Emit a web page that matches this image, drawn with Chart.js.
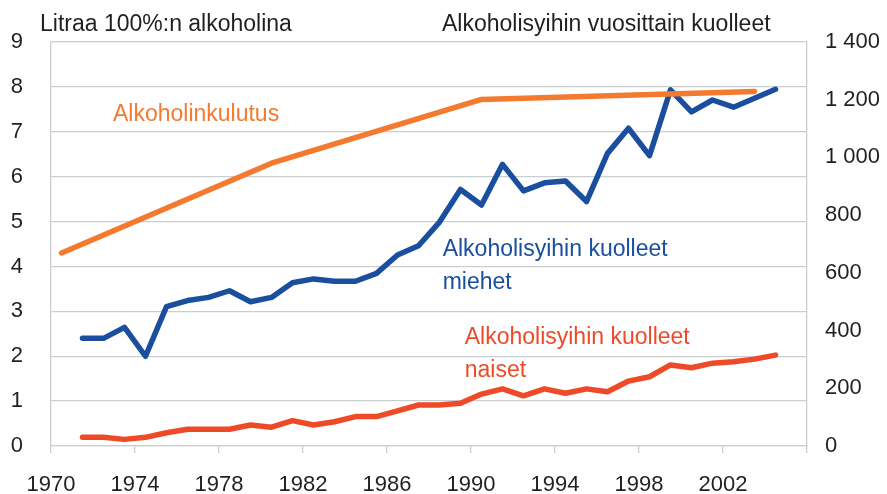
<!DOCTYPE html>
<html>
<head>
<meta charset="utf-8">
<script src="https://cdn.jsdelivr.net/npm/chart.js@4/dist/chart.umd.min.js"></script>
<style>
  html, body { margin: 0; padding: 0; background: #ffffff; }
  #wrap { width: 887px; height: 494px; }
</style>
</head>
<body>
<div id="wrap"><canvas id="c" width="887" height="494"></canvas></div>
<script>
// ---- data ----
const deathYears = [1971,1972,1973,1974,1975,1976,1977,1978,1979,1980,1981,1982,1983,1984,1985,1986,1987,1988,1989,1990,1991,1992,1993,1994,1995,1996,1997,1998,1999,2000,2001,2002,2003,2004];
const menDeaths = [373,373,411,311,483,504,515,538,500,515,566,579,571,571,598,662,694,776,889,835,976,884,912,918,847,1014,1101,1006,1234,1158,1199,1174,1205,1236];
const womenDeaths = [30,30,23,30,46,58,58,58,73,65,88,73,84,102,102,122,142,142,148,180,198,174,198,183,198,188,225,240,281,271,287,292,301,315];
const consumptionYears = [1970,1980,1990,2003];
const consumptionLitres = [4.3,6.3,7.72,7.9];
const xTickYears = [1970,1974,1978,1982,1986,1990,1994,1998,2002];
const leftTitle = 'Litraa 100%:n alkoholina';
const rightTitle = 'Alkoholisyihin vuosittain kuolleet';
const seriesNames = ['Alkoholinkulutus', 'Alkoholisyihin kuolleet miehet', 'Alkoholisyihin kuolleet naiset'];

const ORANGE = '#f47a30', BLUE = '#1a4fa0', RED = '#ee4a28', TEXT = '#231f20', GRID = '#c9ced1';
const FONT = "'Liberation Sans', Arial, sans-serif";

const midYear = y => y + 0.5;
const consData = consumptionYears.map((y, i) => ({x: midYear(y), y: consumptionLitres[i]}));
const menData = deathYears.map((y, i) => ({x: midYear(y), y: menDeaths[i]}));
const womenData = deathYears.map((y, i) => ({x: midYear(y), y: womenDeaths[i]}));

// in-plot labels, anchored in data units (x: year, y: left-axis value at text baseline)
const labels = [
  {lines: ['Alkoholinkulutus'], x: 1972.95, y: 7.24, color: ORANGE},
  {lines: ['Alkoholisyihin kuolleet', 'miehet'], x: 1988.65, y: 4.23, color: BLUE},
  {lines: ['Alkoholisyihin kuolleet', 'naiset'], x: 1989.7, y: 2.27, color: RED}
];

const textPlugin = {
  id: 'texts',
  afterDraw(chart) {
    const ctx = chart.ctx;
    const xs = chart.scales.x, ys = chart.scales.y;
    ctx.save();
    ctx.font = '23px ' + FONT;
    ctx.textBaseline = 'alphabetic';
    ctx.textAlign = 'left';
    ctx.fillStyle = TEXT;
    ctx.fillText(leftTitle, 40, 31);
    ctx.fillText(rightTitle, 442, 31);
    labels.forEach(l => {
      ctx.fillStyle = l.color;
      const px = xs.getPixelForValue(l.x);
      const py = ys.getPixelForValue(l.y);
      l.lines.forEach((t, i) => ctx.fillText(t, px, py + i * 33));
    });
    ctx.restore();
  }
};

new Chart(document.getElementById('c'), {
  type: 'line',
  data: {
    datasets: [
      {label: seriesNames[0], data: consData, yAxisID: 'y', borderColor: ORANGE, borderWidth: 5.5, pointRadius: 0, tension: 0, borderCapStyle: 'round', borderJoinStyle: 'round', order: 0},
      {label: seriesNames[1], data: menData, yAxisID: 'y2', borderColor: BLUE, borderWidth: 5.5, pointRadius: 0, tension: 0, borderCapStyle: 'round', borderJoinStyle: 'round', order: 1},
      {label: seriesNames[2], data: womenData, yAxisID: 'y2', borderColor: RED, borderWidth: 5.5, pointRadius: 0, tension: 0, borderCapStyle: 'round', borderJoinStyle: 'round', order: 2}
    ]
  },
  options: {
    responsive: false,
    animation: false,
    devicePixelRatio: 1,
    layout: {padding: {top: 42, left: 0, right: 0, bottom: 0}},
    plugins: {legend: {display: false}, tooltip: {enabled: false}, title: {display: false}},
    scales: {
      x: {
        type: 'linear', min: 1970, max: 2006,
        afterFit: s => { s.height = 48; },
        afterBuildTicks: s => { s.ticks = xTickYears.concat([2006]).map(v => ({value: v})); },
        grid: {drawOnChartArea: false, drawTicks: true, tickLength: 7, color: GRID, lineWidth: 1.3},
        border: {display: true, color: GRID, width: 1.3},
        ticks: {
          autoSkip: false, maxRotation: 0, padding: 19, color: TEXT,
          font: {family: FONT, size: 22},
          callback: v => xTickYears.includes(v) ? String(v) : ''
        }
      },
      y: {
        position: 'left', min: 0, max: 9,
        afterFit: s => { s.width = 51; },
        grid: {color: GRID, lineWidth: 1.3, drawTicks: false},
        border: {display: true, color: GRID, width: 1.3},
        ticks: {stepSize: 1, padding: 28, color: TEXT, font: {family: FONT, size: 22}}
      },
      y2: {
        position: 'right', min: 0, max: 1400,
        afterFit: s => { s.width = 80; },
        grid: {drawOnChartArea: false, drawTicks: false},
        border: {display: true, color: GRID, width: 1.3},
        ticks: {
          stepSize: 200, padding: 18, color: TEXT, font: {family: FONT, size: 22},
          callback: v => String(v).replace(/\B(?=(\d{3})+(?!\d))/g, ' ')
        }
      }
    }
  },
  plugins: [textPlugin]
});
</script>
</body>
</html>
